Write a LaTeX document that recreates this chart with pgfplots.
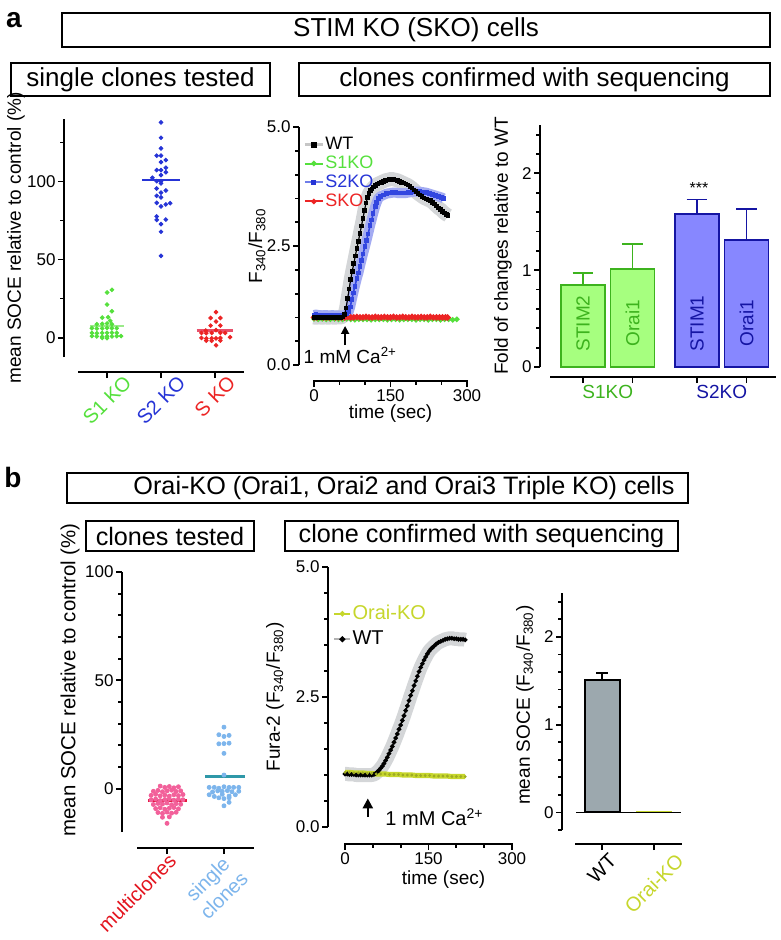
\documentclass[border=0pt]{standalone}
\usepackage{fontspec}
\setmainfont{Liberation Sans}
\usepackage{graphicx}
\usepackage{pgfplots}
\usepackage{pgfplotstable}
\pgfplotsset{compat=1.18}
\usetikzlibrary{arrows.meta}

\definecolor{sgreen}{HTML}{55E03C}
\definecolor{sgreenline}{HTML}{9BEA8A}
\definecolor{sblue}{HTML}{2634D6}
\definecolor{sred}{HTML}{EC2424}
\definecolor{sredline}{HTML}{E8506A}
\definecolor{bgreenfill}{HTML}{A6FF7F}
\definecolor{bgreendraw}{HTML}{3DB31E}
\definecolor{bbluefill}{HTML}{8787FF}
\definecolor{bbluedraw}{HTML}{1515A3}
\definecolor{wtband}{HTML}{D4D6D8}
\definecolor{s2band}{HTML}{A3ABF2}
\definecolor{s2line}{HTML}{3246E0}
\definecolor{oraiyg}{HTML}{C6D62C}
\definecolor{mpink}{HTML}{F2609A}
\definecolor{mred}{HTML}{E3141E}
\definecolor{mredline}{HTML}{E4173E}
\definecolor{cblue}{HTML}{7DB5EC}
\definecolor{cteal}{HTML}{2E98A8}
\definecolor{bargray}{HTML}{9CA8AE}

\tikzset{xline/.style={line width=0.9pt, line cap=rect}}
\pgfplotsset{
  prism/.style={
    scale only axis, clip=false,
    axis lines*=left,
    axis line style={line width=0.9pt},
    tick align=outside,
    major tick length=3pt, minor tick length=1.8pt,
    every tick/.style={black, line width=0.9pt},
    tick label style={font=\fontsize{8.5}{10}\selectfont, inner sep=1pt},
    label style={font=\fontsize{9.5}{11}\selectfont},
    /pgf/number format/assume math mode=true,
    anchor=south west,
  },
}

% ---------- panel a, left: scatter ----------
\pgfplotstableread{
x y
0.09 30.6
0.00 28.9
0.00 21.2
0.09 16.9
-0.09 12.8
0.02 13.1
0.06 10.8
-0.19 8.6
-0.09 8.8
0.00 9.1
0.09 8.6
-0.28 6.0
-0.19 5.8
-0.09 5.9
0.00 6.2
0.09 6.0
0.18 6.0
-0.28 3.0
-0.19 2.8
-0.09 3.0
0.00 3.1
0.09 3.2
0.18 3.0
-0.28 1.0
-0.19 0.8
-0.09 0.6
0.00 0.9
0.09 0.8
0.18 1.0
0.26 1.0
-0.09 -0.2
0.00 -0.3
}\sone
\pgfplotstableread{
x y
1.00 137.8
1.00 128.0
1.00 121.2
0.92 116.5
1.00 116.5
1.09 113.7
1.00 112.4
1.09 108.8
0.92 107.3
1.00 107.3
1.09 105.9
1.00 104.1
0.84 102.4
0.92 100.2
1.00 100.2
1.00 98.8
0.92 95.5
1.09 94.2
1.00 92.8
0.92 90.8
1.00 89.8
0.92 86.3
1.09 85.3
1.17 86.1
1.00 84.0
0.92 77.6
0.92 75.4
1.09 75.6
1.00 72.7
1.00 67.8
1.00 52.4
}\stwo
\pgfplotstableread{
x y
2.02 16.3
1.92 12.6
2.10 12.6
2.02 10.3
1.92 7.7
2.10 7.7
1.83 4.5
2.02 4.8
1.75 3.0
1.84 2.9
1.94 3.0
2.10 3.1
2.19 3.0
1.75 -0.2
1.84 -0.5
1.94 -0.4
2.02 -0.5
2.10 -0.2
2.28 0.3
1.84 -1.9
1.94 -2.0
2.10 -1.9
2.02 -4.9
}\sko

% ---------- panel a, middle: time courses ----------
\pgfplotstableread{
t v
0 1.00
4 0.99
8 1.00
12 1.00
16 0.99
20 1.00
24 1.00
28 0.99
32 1.00
36 1.00
40 0.99
44 1.00
48 1.00
52 1.00
56 1.01
60 1.06
63 1.20
66 1.40
69 1.60
72 1.80
75 1.97
78 2.13
81 2.29
84 2.45
87 2.60
90 2.76
93 2.92
96 3.08
99 3.25
102 3.40
105 3.52
108 3.60
111 3.66
114 3.70
117 3.74
120 3.77
124 3.80
128 3.82
132 3.84
136 3.86
140 3.88
144 3.89
148 3.90
152 3.91
156 3.90
160 3.89
164 3.88
168 3.86
172 3.84
176 3.82
180 3.80
184 3.78
188 3.75
192 3.72
196 3.68
200 3.64
204 3.60
208 3.57
212 3.54
216 3.51
220 3.49
224 3.47
228 3.45
232 3.42
236 3.38
240 3.34
244 3.30
248 3.27
252 3.23
256 3.19
260 3.16
263 3.14
}\wta
\pgfplotstableread{
t v
0 1.05
4 1.06
8 1.05
12 1.05
16 1.04
20 1.05
24 1.05
28 1.04
32 1.04
36 1.05
40 1.04
44 1.04
48 1.04
52 1.04
56 1.04
60 1.05
64 1.07
68 1.12
71 1.22
74 1.37
77 1.51
80 1.65
84 1.82
87 1.93
90 2.07
93 2.20
96 2.33
100 2.49
103 2.62
106 2.75
110 2.93
113 3.05
116 3.18
120 3.33
123 3.42
126 3.50
130 3.54
136 3.57
142 3.60
148 3.61
154 3.62
160 3.62
166 3.61
172 3.61
178 3.61
184 3.62
190 3.63
196 3.64
202 3.64
208 3.64
214 3.63
220 3.62
226 3.60
232 3.58
238 3.56
244 3.54
250 3.52
254 3.50
}\stwoko
\pgfplotstableread{
t v
0 0.97
8 0.96
16 0.97
24 0.96
32 0.96
40 0.97
48 0.96
56 0.96
64 0.97
72 0.96
80 0.95
88 0.96
96 0.96
104 0.96
112 0.95
120 0.96
128 0.96
136 0.96
144 0.95
152 0.96
160 0.96
168 0.95
176 0.96
184 0.96
192 0.96
200 0.95
208 0.96
216 0.96
224 0.95
232 0.96
240 0.96
248 0.95
256 0.96
264 0.96
272 0.95
280 0.96
}\soneko
\pgfplotstableread{
t v
0 1.00
6 1.00
12 1.01
18 1.00
24 1.00
30 1.00
36 1.01
42 1.00
48 1.00
54 1.00
60 1.00
66 1.01
72 1.00
78 1.00
84 1.01
90 1.00
96 1.00
102 1.01
108 1.00
114 1.00
120 1.01
126 1.00
132 1.00
138 1.01
144 1.00
150 1.00
156 1.01
162 1.00
168 1.00
174 1.01
180 1.00
186 1.00
192 1.01
198 1.00
204 1.00
210 1.01
216 1.00
222 1.00
228 1.01
234 1.00
240 1.00
246 1.00
252 1.00
258 1.00
262 1.00
}\skoko

% ---------- panel b, left: scatter ----------
\pgfplotstableread{
x y
-0.12 1.2
-0.04 0.6
0.04 1.0
0.12 0.4
0.20 0.9
-0.24 -1.2
-0.16 -0.8
-0.08 -1.4
0.00 -1.0
0.08 -0.7
0.16 -1.3
0.24 -1.0
-0.28 -3.1
-0.20 -2.6
-0.12 -3.3
-0.04 -2.9
0.04 -3.4
0.12 -2.8
0.20 -3.2
0.28 -2.7
-0.28 -5.2
-0.20 -4.8
-0.12 -5.5
-0.04 -5.0
0.04 -4.7
0.12 -5.3
0.20 -4.9
0.28 -5.1
-0.24 -7.3
-0.16 -6.8
-0.08 -7.1
0.00 -6.6
0.08 -7.4
0.16 -6.9
0.24 -7.2
-0.20 -9.2
-0.12 -8.8
-0.04 -9.5
0.04 -9.0
0.12 -8.7
0.20 -9.3
-0.16 -11.0
-0.08 -11.4
0.00 -10.8
0.08 -11.3
0.16 -10.9
-0.08 -13.2
0.04 -13.0
0.00 -16.0
}\multi
\pgfplotstableread{
x y
1.00 28.4
0.91 24.9
1.00 24.1
1.09 24.6
0.91 20.7
1.00 20.8
1.09 21.0
1.00 16.3
1.00 6.3
0.74 0.6
0.83 0.6
0.91 0.2
1.00 0.9
1.09 0.6
1.17 0.6
1.26 0.6
0.80 -1.5
0.89 -1.0
0.97 -1.2
1.06 -0.9
1.14 -1.4
1.26 -1.2
0.74 -2.8
0.83 -3.6
0.97 -2.6
1.09 -3.4
1.20 -2.8
0.91 -4.2
1.00 -4.6
1.09 -4.2
1.09 -6.3
1.00 -7.9
}\single

% ---------- panel b, middle: time courses ----------
\pgfplotstableread{
t v
0 1.02
4 1.02
8 1.01
12 1.01
16 1.01
20 1.00
24 1.00
28 1.00
32 1.00
36 1.00
40 1.00
44 1.00
48 1.00
52 1.01
55 1.03
58 1.06
61 1.09
64 1.13
67 1.17
70 1.22
73 1.28
76 1.34
79 1.41
82 1.48
85 1.55
88 1.63
91 1.71
94 1.79
97 1.88
100 1.96
103 2.05
106 2.14
109 2.24
112 2.33
115 2.43
118 2.53
121 2.62
124 2.72
127 2.81
130 2.90
133 2.99
136 3.07
139 3.14
142 3.21
145 3.27
148 3.33
151 3.38
154 3.42
157 3.45
160 3.48
164 3.52
168 3.55
172 3.57
176 3.59
180 3.61
184 3.62
188 3.63
192 3.63
196 3.62
200 3.62
204 3.61
208 3.61
212 3.61
216 3.60
}\wtb
\pgfplotstableread{
t v
0 1.05
8 1.05
16 1.04
24 1.04
32 1.04
40 1.03
48 1.03
56 1.02
64 1.02
72 1.02
80 1.01
88 1.01
96 1.01
104 1.00
112 1.00
120 1.00
128 0.99
136 0.99
144 0.99
152 0.99
160 0.98
168 0.98
176 0.98
184 0.98
192 0.97
200 0.97
208 0.97
216 0.97
}\oraiko

\begin{document}
\begin{tikzpicture}
\path[use as bounding box] (0pt,0pt) rectangle (390pt,-470pt);

% ---------- headers ----------
\node[font=\bfseries\fontsize{14}{14}\selectfont] at (7pt,-10pt) {a};
\draw[line width=0.7pt] (31pt,-6.5pt) rectangle (385pt,-23.5pt);
\node[font=\fontsize{13}{13}\selectfont] at (208pt,-15pt) {STIM KO (SKO) cells};
\draw[line width=0.7pt] (5.5pt,-31.5pt) rectangle (135pt,-48pt);
\node[font=\fontsize{13}{13}\selectfont] at (70.25pt,-39.75pt) {single clones tested};
\draw[line width=0.7pt] (149.5pt,-31.5pt) rectangle (385pt,-48pt);
\node[font=\fontsize{13}{13}\selectfont] at (267.25pt,-39.75pt) {clones confirmed with sequencing};

\node[font=\bfseries\fontsize{14}{14}\selectfont] at (6.5pt,-238.5pt) {b};
\draw[line width=0.7pt] (33.5pt,-236.5pt) rectangle (344pt,-251.5pt);
\node[font=\fontsize{12.6}{13}\selectfont] at (202pt,-244pt) {Orai-KO (Orai1, Orai2 and Orai3 Triple KO) cells};
\draw[line width=0.7pt] (43pt,-260.5pt) rectangle (127pt,-275.5pt);
\node[font=\fontsize{12.6}{13}\selectfont] at (85pt,-268pt) {clones tested};
\draw[line width=0.7pt] (142.5pt,-260.5pt) rectangle (339pt,-275.5pt);
\node[font=\fontsize{12.6}{13}\selectfont] at (240.75pt,-268pt) {clone confirmed with sequencing};

% ---------- a left ----------
\begin{axis}[prism,
  at={(39.5pt,-178.5pt)}, width=82pt, height=119pt,
  xmin=-0.52, xmax=2.52, ymin=-12.4, ymax=140,
  axis x line shift=7.5pt, axis y line shift=7.5pt,
  xtick={0,1,2},
  xticklabels={{\rotatebox{45}{\textcolor{sgreen}{S1 KO}}},{\rotatebox{45}{\textcolor{sblue}{S2 KO}}},{\rotatebox{45}{\textcolor{sred}{S KO}}}},
  xticklabel style={font=\fontsize{10}{12}\selectfont, yshift=3pt},
  ytick={0,50,100}, minor ytick={25,75,125},
  ylabel={mean SOCE relative to control (\%)},
  ylabel style={at={(axis description cs:-0.384,0.5)}, anchor=center},
]
\draw[xline] ([yshift=-7.5pt]rel axis cs:0,0) -- ([yshift=-7.5pt]rel axis cs:1,0);
\addplot[only marks, mark=*, mark size=0.95pt, color=sgreen] table {\sone};
\addplot[only marks, mark=*, mark size=0.95pt, color=sblue] table {\stwo};
\addplot[only marks, mark=*, mark size=0.95pt, color=sred] table {\sko};
\addplot[sgreenline, line width=1.3pt] coordinates {(-0.32,7.5) (0.32,7.5)};
\addplot[sblue, line width=1.3pt] coordinates {(0.65,101) (1.35,101)};
\addplot[sredline, line width=1.3pt] coordinates {(1.66,4.5) (2.34,4.5)};
\end{axis}

% ---------- a middle ----------
\begin{axis}[prism,
  at={(157pt,-182.5pt)}, width=76.5pt, height=119pt,
  xmin=0, xmax=300, ymin=0, ymax=5,
  axis x line shift=8pt, axis y line shift=7.5pt,
  xtick={0,150,300}, minor xtick={50,100,200,250},
  ytick={0,2.5,5}, minor ytick={0.5,1,1.5,2,3,3.5,4,4.5},
  yticklabel style={/pgf/number format/.cd,fixed,fixed zerofill,precision=1},
  xlabel={time (sec)},
  xlabel style={at={(axis description cs:0.5,-0.205)}, anchor=center},
  ylabel={F\textsubscript{340}/F\textsubscript{380}},
  ylabel style={at={(axis description cs:-0.373,0.5)}, anchor=center},
  legend style={at={(axis description cs:-0.07,0.965)}, anchor=north west, draw=none, fill=none,
    font=\fontsize{9}{9}\selectfont, inner sep=0pt, row sep=0.5pt, nodes={inner sep=0.6pt}},
  legend cell align=left,
  legend image code/.code={\draw[mark repeat=2,mark phase=2,#1] plot coordinates {(0pt,0pt) (4.5pt,0pt) (9pt,0pt)};},
]
\draw[xline] ([yshift=-8pt]rel axis cs:0,0) -- ([yshift=-8pt]rel axis cs:1,0);
\addlegendimage{gray!45, line width=1.2pt, mark=square*, mark size=0.9pt, mark options={black}}
\addlegendentry{WT}
\addlegendimage{sgreen, line width=1pt, mark=*, mark size=0.8pt}
\addlegendentry{\textcolor{sgreen}{S1KO}}
\addlegendimage{s2line!70, line width=1pt, mark=square*, mark size=0.8pt, mark options={sblue}}
\addlegendentry{\textcolor{sblue}{S2KO}}
\addlegendimage{sred, line width=1pt, mark=*, mark size=0.8pt}
\addlegendentry{\textcolor{sred}{SKO}}
\addplot[forget plot, wtband, line width=7pt, line join=round] table {\wta};
\addplot[forget plot, s2band, line width=5pt, line join=round] table {\stwoko};
\addplot[forget plot, sgreen, line width=1pt, mark=*, mark size=0.8pt] table {\soneko};
\addplot[forget plot, sred, line width=1.2pt, mark=*, mark size=0.9pt] table {\skoko};
\addplot[forget plot, s2line, line width=0.8pt, mark=square*, mark size=0.75pt] table {\stwoko};
\addplot[forget plot, black, line width=0.6pt, mark=square*, mark size=0.85pt] table {\wta};
\draw[-{Triangle[length=4pt,width=4pt]}, line width=0.9pt] (axis cs:61,0.42) -- (axis cs:61,0.82);
\node[anchor=west, font=\fontsize{9.5}{11}\selectfont, inner sep=0pt] at (axis cs:-21,0.2) {1 mM Ca\textsuperscript{2+}};
\end{axis}

% ---------- a right ----------
\begin{axis}[prism,
  at={(275.5pt,-183.5pt)}, width=112pt, height=121pt,
  xmin=551, xmax=775, ymin=0, ymax=2.5,
  axis x line shift=5pt, axis y line shift=5.5pt,
  xtick={583,632.5,697,746.5},
  xticklabels={\textcolor{bgreendraw}{S1KO},,\textcolor{bbluedraw}{S2KO},},
  xticklabel style={font=\fontsize{9.5}{11}\selectfont, xshift=12.4pt},
  ytick={0,1,2}, minor ytick={0.2,0.4,0.6,0.8,1.2,1.4,1.6,1.8,2.2,2.4},
  ylabel={Fold of changes relative to WT},
  ylabel style={at={(axis description cs:-0.214,0.5)}, anchor=center},
]
\draw[xline] ([yshift=-5pt]rel axis cs:0,0) -- ([yshift=-5pt]rel axis cs:1,0);
\addplot[ybar, bar width=44, bar shift=0pt, fill=bgreenfill, draw=bgreendraw, line width=0.9pt,
  error bars/.cd, y dir=plus, y explicit,
  error bar style={line width=0.9pt, bgreendraw},
  error mark options={rotate=90, mark size=5.2pt, line width=0.9pt, bgreendraw}]
  coordinates {(583,0.85) +- (0,0.12)};
\addplot[ybar, bar width=44, bar shift=0pt, fill=bgreenfill, draw=bgreendraw, line width=0.9pt,
  error bars/.cd, y dir=plus, y explicit,
  error bar style={line width=0.9pt, bgreendraw},
  error mark options={rotate=90, mark size=5.2pt, line width=0.9pt, bgreendraw}]
  coordinates {(632.5,1.01) +- (0,0.26)};
\addplot[ybar, bar width=44, bar shift=0pt, fill=bbluefill, draw=bbluedraw, line width=0.9pt,
  error bars/.cd, y dir=plus, y explicit,
  error bar style={line width=0.9pt, bbluedraw},
  error mark options={rotate=90, mark size=5.2pt, line width=0.9pt, bbluedraw}]
  coordinates {(697,1.58) +- (0,0.15)};
\addplot[ybar, bar width=44, bar shift=0pt, fill=bbluefill, draw=bbluedraw, line width=0.9pt,
  error bars/.cd, y dir=plus, y explicit,
  error bar style={line width=0.9pt, bbluedraw},
  error mark options={rotate=90, mark size=5.2pt, line width=0.9pt, bbluedraw}]
  coordinates {(746.5,1.31) +- (0,0.32)};
\node[rotate=90, text=bgreendraw, font=\fontsize{9.5}{11}\selectfont] at (axis cs:583,0.45) {STIM2};
\node[rotate=90, text=bgreendraw, font=\fontsize{9.5}{11}\selectfont] at (axis cs:632.5,0.45) {Orai1};
\node[rotate=90, text=bbluedraw, font=\fontsize{9.5}{11}\selectfont] at (axis cs:697,0.45) {STIM1};
\node[rotate=90, text=bbluedraw, font=\fontsize{9.5}{11}\selectfont] at (axis cs:746.5,0.45) {Orai1};
\node[font=\fontsize{8}{9}\selectfont] at (axis cs:699,1.85) {***};
\end{axis}

% ---------- b left ----------
\begin{axis}[prism,
  at={(69pt,-416pt)}, width=57.5pt, height=130pt,
  xmin=-0.51, xmax=1.51, ymin=-20, ymax=100,
  axis x line shift=8pt, axis y line shift=8pt,
  xtick={0,1},
  xticklabels={{\rotatebox{45}{\textcolor{mred}{multiclones}}\hspace*{30pt}},{\rotatebox{45}{\textcolor{cblue}{\begin{tabular}{@{}c@{}}single\\clones\end{tabular}}}\hspace*{6.5pt}}},
  xticklabel style={font=\fontsize{10}{11.5}\selectfont, yshift=2pt},
  ytick={0,50,100}, minor y tick num=4,
  ylabel={mean SOCE relative to control (\%)},
  ylabel style={at={(axis description cs:-0.591,0.585)}, anchor=center, font=\fontsize{10.2}{12}\selectfont},
]
\draw[xline] ([yshift=-8pt]rel axis cs:0,0) -- ([yshift=-8pt]rel axis cs:1,0);
\addplot[only marks, mark=*, mark size=1pt, color=mpink] table {\multi};
\addplot[only marks, mark=*, mark size=1pt, color=cblue] table {\single};
\addplot[mredline, line width=1.4pt] coordinates {(-0.33,-5.6) (0.35,-5.6)};
\addplot[cteal, line width=1.4pt] coordinates {(0.67,5.7) (1.37,5.7)};
\end{axis}

% ---------- b middle ----------
\begin{axis}[prism,
  at={(172.5pt,-413.5pt)}, width=83.5pt, height=130pt,
  xmin=0, xmax=300, ymin=0, ymax=5,
  axis x line shift=8.5pt, axis y line shift=8.5pt,
  xtick={0,150,300}, minor xtick={50,100,200,250},
  ytick={0,2.5,5}, minor ytick={0.5,1,1.5,2,3,3.5,4,4.5},
  yticklabel style={/pgf/number format/.cd,fixed,fixed zerofill,precision=1},
  xlabel={time (sec)},
  xlabel style={at={(axis description cs:0.59,-0.204)}, anchor=center},
  ylabel={Fura-2 (F\textsubscript{340}/F\textsubscript{380})},
  ylabel style={at={(axis description cs:-0.419,0.5)}, anchor=center},
  legend style={at={(axis description cs:-0.072,0.86)}, anchor=north west, draw=none, fill=none,
    font=\fontsize{10}{10}\selectfont, inner sep=0pt, row sep=3pt, nodes={inner sep=0.6pt}},
  legend cell align=left,
  legend image code/.code={\draw[mark repeat=2,mark phase=2,#1] plot coordinates {(0pt,0pt) (4pt,0pt) (8pt,0pt)};},
]
\draw[xline] ([yshift=-8.5pt]rel axis cs:0,0) -- ([yshift=-8.5pt]rel axis cs:1,0);
\addlegendimage{oraiyg, line width=1pt, mark=*, mark size=0.8pt}
\addlegendentry{\textcolor{oraiyg}{Orai-KO}}
\addlegendimage{gray!60, line width=1pt, mark=*, mark size=0.9pt, mark options={black}}
\addlegendentry{WT}
\addplot[forget plot, wtband, line width=7pt, line join=round] table {\wtb};
\addplot[forget plot, black, line width=0.6pt, mark=*, mark size=0.85pt] table {\wtb};
\addplot[forget plot, oraiyg, line width=2.6pt] table {\oraiko};
\addplot[forget plot, oraiyg!80!black, line width=0.4pt, mark=*, mark size=0.5pt, only marks] table {\oraiko};
\draw[-{Triangle[length=5pt,width=5pt]}, line width=1.2pt] (axis cs:41,0.19) -- (axis cs:41,0.55);
\node[anchor=west, font=\fontsize{10}{12}\selectfont, inner sep=0pt] at (axis cs:72,0.19) {1 mM Ca\textsuperscript{2+}};
\end{axis}

% ---------- b right ----------
\begin{axis}[prism,
  at={(288pt,-415pt)}, width=52.5pt, height=118.5pt,
  xmin=576, xmax=681, ymin=-0.2, ymax=2.5,
  axis x line shift=7pt, axis y line shift=7pt,
  xtick={602,654},
  xticklabels={{\rotatebox{45}{WT}},{\rotatebox{45}{\textcolor{oraiyg}{Orai-KO}}}},
  xticklabel style={font=\fontsize{10}{12}\selectfont},
  ytick={0,1,2}, minor ytick={-0.2,0.2,0.4,0.6,0.8,1.2,1.4,1.6,1.8,2.2,2.4},
  ylabel={mean SOCE (F\textsubscript{340}/F\textsubscript{380})},
  ylabel style={at={(axis description cs:-0.486,0.527)}, anchor=center},
]
\draw[xline] ([yshift=-7pt]rel axis cs:0,0) -- ([yshift=-7pt]rel axis cs:1,0);
\addplot[ybar, bar width=35, bar shift=0pt, fill=bargray, draw=black, line width=1pt,
  error bars/.cd, y dir=plus, y explicit,
  error bar style={line width=1pt, black},
  error mark options={rotate=90, mark size=3pt, line width=1pt, black}]
  coordinates {(602,1.51) +- (0,0.08)};
\addplot[ybar, bar width=35, bar shift=0pt, fill=oraiyg, draw=oraiyg, line width=0.8pt]
  coordinates {(654,0.012)};
\draw[line width=0.9pt] (axis cs:576,0) -- (axis cs:681,0);
\end{axis}
\end{tikzpicture}
\end{document}
